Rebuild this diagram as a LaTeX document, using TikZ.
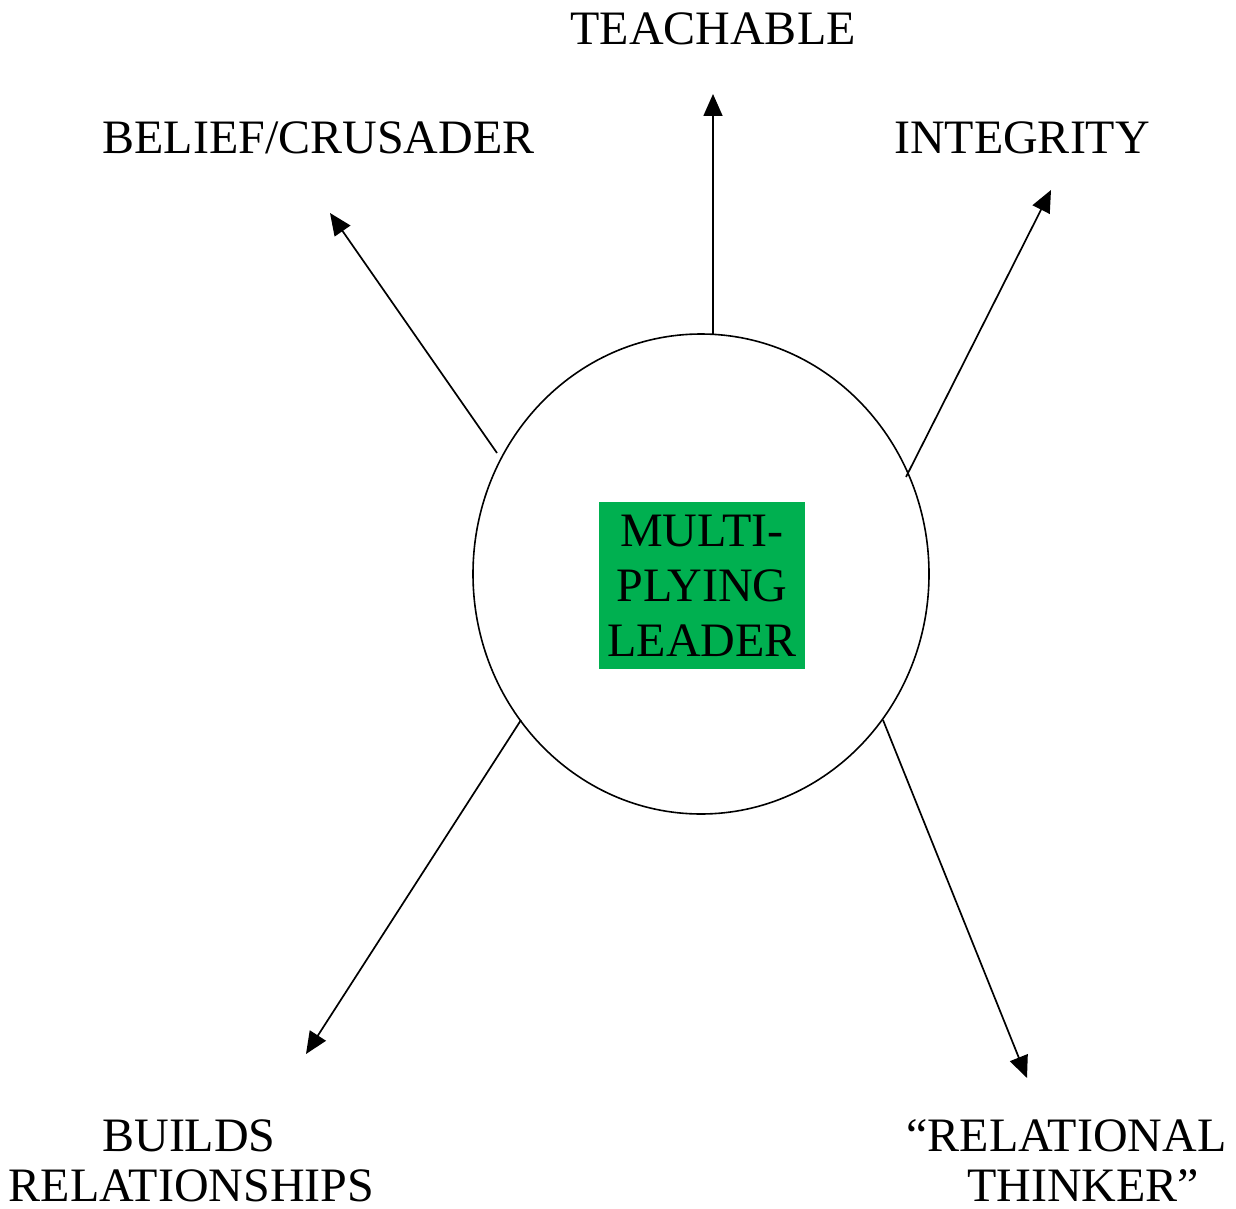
\documentclass[tikz,border=0pt]{standalone}
\usepackage{fontspec}
\setmainfont{Liberation Serif}
\usetikzlibrary{arrows.meta}
\begin{document}
\begin{tikzpicture}[x=1pt,y=-1pt,
  lbl/.style={font=\fontsize{48}{50}\selectfont, inner sep=0pt, anchor=base, text depth=0pt},
  arr/.style={line width=1.7pt, -{Triangle[length=22pt,width=19pt]}}]
\useasboundingbox (0,0) rectangle (1236,1209);
% hub
\draw[line width=1.6pt] (701,574) ellipse [x radius=228, y radius=240];
\node[fill={rgb,255:red,0;green,176;blue,80}, minimum width=206pt, minimum height=167pt, inner sep=0pt,
      align=center, font=\fontsize{48}{55}\selectfont] (hub) at (702,585.5) {MULTI-\\PLYING\\LEADER};
% labels
\node[lbl] (teach) at (713,45) {TEACHABLE};
\node[lbl] (belief) at (318.5,154) {BELIEF/CRUSADER};
\node[lbl] (integ) at (1022,154) {INTEGRITY};
\node[lbl] (builds1) at (189,1151) {BUILDS};
\node[lbl] (builds2) at (191.5,1201) {RELATIONSHIPS};
\node[lbl] (rel1) at (1066.5,1151) {“RELATIONAL};
\node[lbl] (rel2) at (1083,1201) {THINKER”};
% connector end points
\coordinate (s1) at (713,334);  \coordinate (e1) at (713,94);
\coordinate (s2) at (497,453);  \coordinate (e2) at (330,213);
\coordinate (s3) at (906,477);  \coordinate (e3) at (1051,190);
\coordinate (s4) at (521,720);  \coordinate (e4) at (306,1054);
\coordinate (s5) at (883,720);  \coordinate (e5) at (1027,1078);
\draw[arr] (s1) -- (e1);
\draw[arr] (s2) -- (e2);
\draw[arr] (s3) -- (e3);
\draw[arr] (s4) -- (e4);
\draw[arr] (s5) -- (e5);
\end{tikzpicture}
\end{document}
